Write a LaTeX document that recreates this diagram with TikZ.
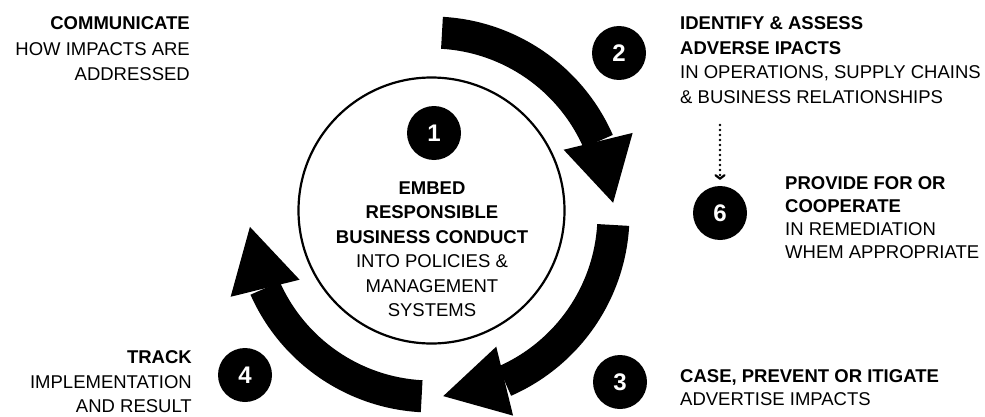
\documentclass[tikz,border=0pt]{standalone}
\usepackage{fontspec}
\setmainfont{Liberation Sans}
\usetikzlibrary{calc, arrows.meta}

\begin{document}
\begin{tikzpicture}[x=1pt,y=1pt,
  blurb/.style={font=\fontsize{18.5}{24.5}\selectfont, inner sep=0pt},
  badge/.style={circle, fill=black, minimum size=54pt, inner sep=0pt,
    text=white, font=\fontsize{24}{24}\selectfont\bfseries}]
% Page is 985 by 416
\useasboundingbox (0,0) rectangle (985,416);
% The three arrows go round (hub)
\coordinate (hub) at (431.5,201.5);
% Top arrow, from 86.7 down to 23.7 degrees, tip at 3.7
\fill ($(hub)+(86.7:198)$) arc[start angle=86.7, end angle=23.7, radius=198]
  -- ($(hub)+(23.7:166)$) arc[start angle=23.7, end angle=86.7, radius=166] -- cycle;
\fill ($(hub)+(23.7:182)+(13.7:35.5)$) -- ($(hub)+(3.7:182)$)
  -- ($(hub)+(23.7:182)-(13.7:35.5)$) -- cycle;
% Right arrow, from -3.3 down to -66.3 degrees, tip at -86.3
\fill ($(hub)+(-3.3:198)$) arc[start angle=-3.3, end angle=-66.3, radius=198]
  -- ($(hub)+(-66.3:166)$) arc[start angle=-66.3, end angle=-3.3, radius=166] -- cycle;
\fill ($(hub)+(-66.3:182)+(-76.3:35.5)$) -- ($(hub)+(-86.3:182)$)
  -- ($(hub)+(-66.3:182)-(-76.3:35.5)$) -- cycle;
% Bottom arrow, from -93.1 down to -156.1 degrees, tip at -176.1
\fill ($(hub)+(-93.1:198)$) arc[start angle=-93.1, end angle=-156.1, radius=198]
  -- ($(hub)+(-156.1:166)$) arc[start angle=-156.1, end angle=-93.1, radius=166] -- cycle;
\fill ($(hub)+(-156.1:182)+(-166.1:35.5)$) -- ($(hub)+(-176.1:182)$)
  -- ($(hub)+(-156.1:182)-(-166.1:35.5)$) -- cycle;
% Circle in the middle
\node [draw, circle, line width=2.2pt, minimum size=266pt] (core) at (431.5,205.5) {};
\node [blurb, anchor=north, align=center] (embed) at (432,234.5)
  {\textbf{EMBED}\\\textbf{RESPONSIBLE}\\\textbf{BUSINESS CONDUCT}\\INTO POLICIES \&\\MANAGEMENT\\SYSTEMS};
% Numbered badges
\node [badge] (b1) at (434,283) {1};
\node [badge] (b2) at (619,363) {2};
\node [badge] (b3) at (620,34) {3};
\node [badge] (b4) at (245,41) {4};
\node [badge] (b6) at (720,203) {6};
% Texts round the cycle
\node [blurb, font=\fontsize{18.5}{25.5}\selectfont, anchor=north east, align=right] (communicate) at (190,399.5)
  {\textbf{COMMUNICATE}\\HOW IMPACTS ARE\\ADDRESSED};
\node [blurb, anchor=north west, align=left] (identify) at (680,399.5)
  {\textbf{IDENTIFY \& ASSESS}\\\textbf{ADVERSE IPACTS}\\IN OPERATIONS, SUPPLY CHAINS\\\& BUSINESS RELATIONSHIPS};
\node [blurb, font=\fontsize{18.5}{23}\selectfont, anchor=north west, align=left] (provide) at (785,239.5)
  {\textbf{PROVIDE FOR OR}\\\textbf{COOPERATE}\\IN REMEDIATION\\WHEM APPROPRIATE};
\node [blurb, font=\fontsize{18.5}{22.5}\selectfont, anchor=north west, align=left] (prevent) at (680,46.5)
  {\textbf{CASE, PREVENT OR ITIGATE}\\ADVERTISE IMPACTS};
\node [blurb, anchor=north east, align=right] (track) at (192,65.5)
  {\textbf{TRACK}\\IMPLEMENTATION\\AND RESULT};
% Dotted drop from 2 to 6
\coordinate (drop) at (720,291);
\draw [line width=2.7pt, line cap=round, dash pattern=on 0pt off 5pt,
  -{Straight Barb[length=3.5pt, width=9pt, round, line width=2.2pt]}, shorten >=6pt] (drop) -- (b6);
\end{tikzpicture}
\end{document}
